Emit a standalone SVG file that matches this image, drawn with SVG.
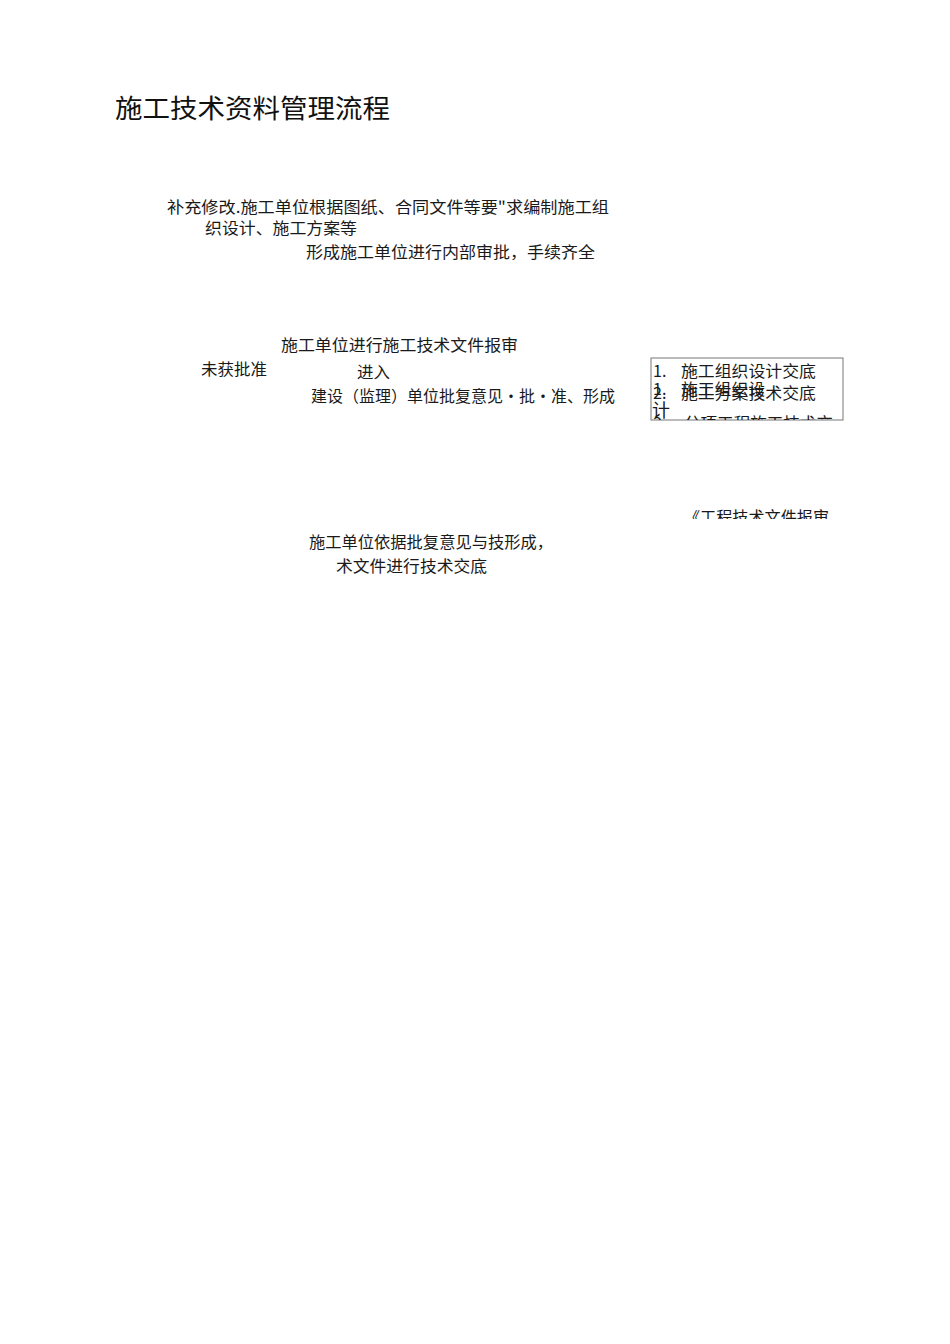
<svg xmlns="http://www.w3.org/2000/svg" width="950" height="1344" viewBox="0 0 950 1344">
<style>
.t{font-family:"Noto Sans CJK SC","Liberation Serif",serif;font-size:16px;fill:#1a1a1a}
.title{font-family:"Noto Sans CJK SC","Liberation Sans",sans-serif;font-size:26px;fill:#111}
.box{fill:none;stroke:#777;stroke-width:1}
</style>
<defs>
<clipPath id="boxclip"><rect x="651" y="358" width="192" height="62"/></clipPath>
<clipPath id="repclip"><rect x="600" y="490" width="300" height="29"/></clipPath>
</defs>
<rect width="950" height="1344" fill="#fff"/>
<g id="title"><text class="title" x="115" y="118" textLength="275" lengthAdjust="spacingAndGlyphs">施工技术资料管理流程</text></g>
<g id="connectors"></g>
<g id="node-prepare">
<text class="t" x="167" y="213" textLength="442" lengthAdjust="spacingAndGlyphs">补充修改.施工单位根据图纸、合同文件等要"求编制施工组</text>
<text class="t" x="205" y="234" textLength="152" lengthAdjust="spacingAndGlyphs">织设计、施工方案等</text>
</g>
<g id="node-internal"><text class="t" x="306" y="258" textLength="289" lengthAdjust="spacingAndGlyphs">形成施工单位进行内部审批，手续齐全</text></g>
<g id="node-submit"><text class="t" x="281" y="351" textLength="237" lengthAdjust="spacingAndGlyphs">施工单位进行施工技术文件报审</text></g>
<g id="label-rejected"><text class="t" x="201" y="375" textLength="66" lengthAdjust="spacingAndGlyphs">未获批准</text></g>
<g id="label-enter"><text class="t" x="357" y="378" textLength="33" lengthAdjust="spacingAndGlyphs">进入</text></g>
<g id="node-approve"><text class="t" x="311" y="402" textLength="304" lengthAdjust="spacingAndGlyphs">建设（监理）单位批复意见•批•准、形成</text></g>
<g id="node-list">
<rect class="box" x="651" y="358" width="192" height="62"/>
<g clip-path="url(#boxclip)">
<text class="t" x="653" y="377">1.</text>
<text class="t" x="681" y="377" textLength="135" lengthAdjust="spacingAndGlyphs">施工组织设计交底</text>
<text class="t" x="653" y="395">1.</text>
<text class="t" x="681" y="395" textLength="84" lengthAdjust="spacingAndGlyphs">施工组织设</text>
<text class="t" x="653" y="399">2.</text>
<text class="t" x="681" y="399" textLength="135" lengthAdjust="spacingAndGlyphs">施工方案技术交底</text>
<text class="t" x="652" y="417" style="font-size:18px">计</text>
<text class="t" x="653" y="429">3.</text>
<text class="t" x="684" y="429" textLength="149" lengthAdjust="spacingAndGlyphs">分项工程施工技术交</text>
</g>
</g>
<g id="node-report" clip-path="url(#repclip)"><text class="t" x="684" y="523" textLength="145" lengthAdjust="spacingAndGlyphs">《工程技术文件报审</text></g>
<g id="node-disclose">
<text class="t" x="309" y="548" textLength="244" lengthAdjust="spacingAndGlyphs">施工单位依据批复意见与技形成，</text>
<text class="t" x="336" y="572" textLength="151" lengthAdjust="spacingAndGlyphs">术文件进行技术交底</text>
</g>
</svg>
